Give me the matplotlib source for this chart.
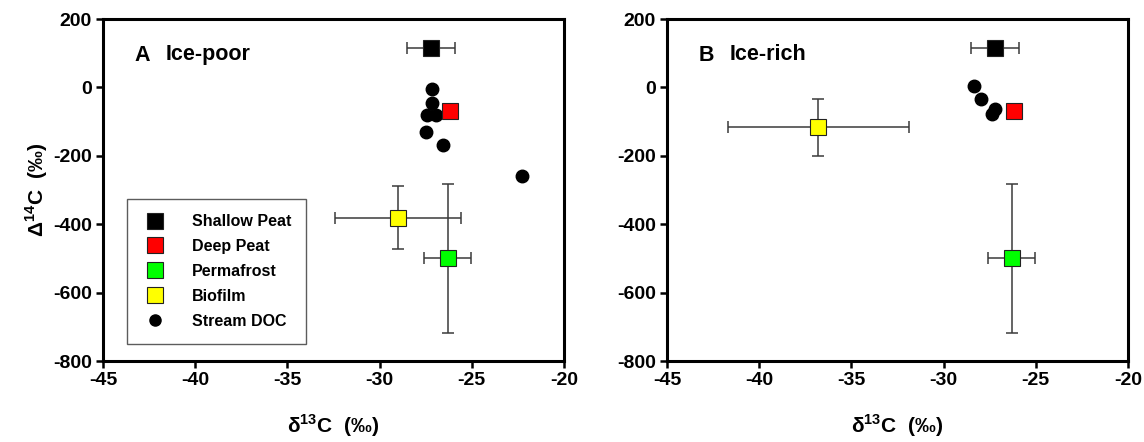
import matplotlib
matplotlib.use('Agg')
from matplotlib import pyplot as plt
from matplotlib.lines import Line2D

plt.rcParams['font.family'] = ['Liberation Sans', 'DejaVu Sans']
plt.rcParams['font.weight'] = 'bold'
plt.rcParams['axes.unicode_minus'] = False
plt.rcParams['mathtext.fontset'] = 'custom'
plt.rcParams['mathtext.rm'] = 'Liberation Sans'
plt.rcParams['mathtext.bf'] = 'Liberation Sans:bold'

# end-member sources: (d13C, D14C, d13C err, D14C err)
shallow_peat = (-27.2, 116, 1.3, 0)
deep_peat = (-26.2, -69, 0, 0)
permafrost = (-26.3, -500, 1.27, 217)
biofilm_poor = (-29.0, -381, 3.4, 92)
biofilm_rich = (-36.8, -117, 4.9, 83)

# stream DOC samples
doc_poor_d13c = [-27.17, -27.17, -27.41, -26.96, -27.48, -26.58, -22.29]
doc_poor_d14c = [-5, -46, -81, -81, -130, -168, -258]
doc_rich_d13c = [-28.33, -27.99, -27.21, -27.36]
doc_rich_d14c = [5, -34, -64, -78]

colors = {'Shallow Peat': 'black', 'Deep Peat': '#ff0000',
          'Permafrost': '#00ff00', 'Biofilm': '#ffff00'}

err_kw = dict(ecolor='#3a3a3a', elinewidth=1.1, capsize=4.5, capthick=1.1)
sq_kw = dict(marker='s', markersize=11, markeredgecolor='#222222',
             markeredgewidth=0.8, linestyle='none')


def draw_panel(ax, letter, title, biofilm, doc_x, doc_y):
    sources = [('Shallow Peat', shallow_peat), ('Deep Peat', deep_peat),
               ('Permafrost', permafrost), ('Biofilm', biofilm)]
    for name, (x, y, xe, ye) in sources:
        if xe or ye:
            ax.errorbar(x, y, xerr=xe if xe else None, yerr=ye if ye else None,
                        fmt='none', zorder=2, **err_kw)
    ax.plot(doc_x, doc_y, 'o', color='black', markersize=9, zorder=3)
    for name, (x, y, xe, ye) in sources:
        ax.plot(x, y, markerfacecolor=colors[name], zorder=4, **sq_kw)

    ax.set_xlim(-45, -20)
    ax.set_ylim(-800, 200)
    ax.set_xticks(range(-45, -19, 5))
    ax.set_yticks(range(-800, 201, 200))
    ax.tick_params(direction='out', length=5, width=1.8, labelsize=14, pad=3,
                   top=False, right=False)
    for s in ax.spines.values():
        s.set_linewidth(2.2)
    ax.set_xlabel(r'$\mathrm{\delta}^{\mathbf{13}}$C  (‰)', fontsize=15,
                  fontweight='bold', labelpad=17)

    ax.text(0.069, 0.893, letter, transform=ax.transAxes, fontsize=15.5,
            fontweight='bold', va='center', ha='left')
    ax.text(0.137, 0.897, title, transform=ax.transAxes, fontsize=15.5,
            fontweight='bold', va='center', ha='left')


fig = plt.figure(figsize=(11.44, 4.42), dpi=100)
ax1 = fig.add_axes([0.090, 0.183, 0.403, 0.774])
ax2 = fig.add_axes([0.583, 0.183, 0.403, 0.774])

draw_panel(ax1, 'A', 'Ice-poor', biofilm_poor, doc_poor_d13c, doc_poor_d14c)
draw_panel(ax2, 'B', 'Ice-rich', biofilm_rich, doc_rich_d13c, doc_rich_d14c)
ax1.set_ylabel(r'$\mathrm{\Delta}^{\mathbf{14}}$C  (‰)', fontsize=15,
               fontweight='bold', labelpad=2)

handles = [Line2D([], [], markerfacecolor=c, **sq_kw) for c in colors.values()]
handles.append(Line2D([], [], marker='o', color='black', markersize=8, linestyle='none'))
labels = list(colors.keys()) + ['Stream DOC']
leg = ax1.legend(handles, labels, loc='upper left', bbox_to_anchor=(0.052, 0.474),
                 fontsize=11.5, frameon=True, fancybox=False, borderpad=0.95,
                 labelspacing=0.62, handlelength=1.6, handletextpad=1.5,
                 borderaxespad=0)
leg.get_frame().set_edgecolor('#333333')
leg.get_frame().set_linewidth(1.0)

plt.savefig('out.png', dpi=100)
